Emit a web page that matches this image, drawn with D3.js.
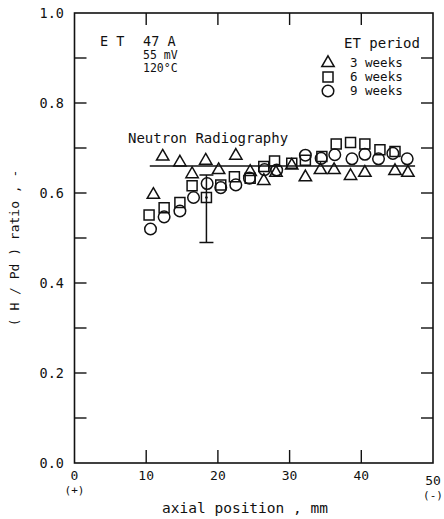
<!DOCTYPE html>
<html>
<head>
<meta charset="utf-8">
<script src="https://cdn.jsdelivr.net/npm/d3@7"></script>
<style>
  body { margin: 0; background: #fff; }
  text { font-family: "DejaVu Sans Mono", monospace; fill: #111; }
</style>
</head>
<body>
<div id="chart"></div>
<script>
// data
var wk3X = [11.0, 12.3, 14.7, 16.4, 18.3, 20.1, 22.5, 24.5, 26.4, 28.1, 30.3, 32.2, 34.3, 36.2, 38.5, 40.5, 44.7, 46.5];
var wk3Y = [0.596, 0.681, 0.668, 0.642, 0.672, 0.651, 0.683, 0.647, 0.627, 0.645, 0.661, 0.635, 0.651, 0.651, 0.638, 0.645, 0.649, 0.645];

var wk6X = [10.4, 12.5, 14.7, 16.4, 18.4, 20.4, 22.3, 24.5, 26.4, 27.9, 30.3, 32.2, 34.5, 36.5, 38.5, 40.5, 42.6, 44.7];
var wk6Y = [0.551, 0.567, 0.579, 0.616, 0.590, 0.618, 0.636, 0.633, 0.659, 0.671, 0.666, 0.673, 0.681, 0.709, 0.712, 0.709, 0.696, 0.692];

var wk9X = [10.6, 12.5, 14.7, 16.6, 18.5, 20.4, 22.5, 24.4, 26.5, 28.2, 32.2, 34.4, 36.3, 38.7, 40.5, 42.4, 44.4, 46.4];
var wk9Y = [0.520, 0.547, 0.560, 0.590, 0.621, 0.612, 0.618, 0.633, 0.652, 0.651, 0.684, 0.677, 0.685, 0.676, 0.686, 0.676, 0.688, 0.676];

var nrLine = [[10.5, 0.66], [47.5, 0.66]];
var errBar = { x: 18.4, lo: 0.49, hi: 0.64 };

var xTicks = [0, 10, 20, 30, 40, 50];
var yTicks = [0.0, 0.2, 0.4, 0.6, 0.8, 1.0];
var yMinor = [0.1, 0.3, 0.5, 0.7, 0.9];

var legendLabels = ["3 weeks", "6 weeks", "9 weeks"];

function init() {
  var w = 444, h = 519;
  var left = 74.5, right = 433, top = 13, bottom = 463;

  var svg = d3.select("#chart").append("svg")
    .attr("width", w).attr("height", h);

  var x = d3.scaleLinear().domain([0, 50]).range([left, right]);
  var y = d3.scaleLinear().domain([0, 1]).range([bottom, top]);

  // frame
  svg.append("rect")
    .attr("x", left).attr("y", top)
    .attr("width", right - left).attr("height", bottom - top)
    .attr("fill", "none").attr("stroke", "#111").attr("stroke-width", 1.6);

  var tickG = svg.append("g").attr("stroke", "#111").attr("stroke-width", 1.4);
  var allY = yTicks.concat(yMinor);
  // left and right ticks, inward
  allY.forEach(function(v) {
    if (v === 0 || v === 1) return;
    tickG.append("line").attr("x1", left).attr("x2", left + 12).attr("y1", y(v)).attr("y2", y(v));
    tickG.append("line").attr("x1", right).attr("x2", right - 12).attr("y1", y(v)).attr("y2", y(v));
  });
  // top and bottom ticks, inward
  xTicks.slice(1, -1).forEach(function(v) {
    tickG.append("line").attr("x1", x(v)).attr("x2", x(v)).attr("y1", bottom).attr("y2", bottom - 13);
    tickG.append("line").attr("x1", x(v)).attr("x2", x(v)).attr("y1", top).attr("y2", top + 12);
  });

  // tick labels
  svg.selectAll(".ylab").data(yTicks).enter().append("text")
    .attr("x", 64).attr("y", function(d) { return y(d); })
    .attr("dy", "0.35em").attr("text-anchor", "end")
    .attr("font-size", 13.5)
    .text(function(d) { return d.toFixed(1); });

  svg.selectAll(".xlab").data(xTicks).enter().append("text")
    .attr("x", function(d) { return x(d); })
    .attr("y", function(d) { return d === 50 ? 485 : 480; })
    .attr("text-anchor", "middle")
    .attr("font-size", 13)
    .text(function(d) { return d; });

  svg.append("text").attr("x", x(0)).attr("y", 494).attr("text-anchor", "middle")
    .attr("font-size", 11).text("(+)");
  svg.append("text").attr("x", x(50)).attr("y", 499).attr("text-anchor", "middle")
    .attr("font-size", 11).text("(-)");

  // axis titles
  svg.append("text").attr("x", 245).attr("y", 513).attr("text-anchor", "middle")
    .attr("font-size", 14.5).text("axial position , mm");
  svg.append("text")
    .attr("transform", "translate(19,248) rotate(-90)")
    .attr("text-anchor", "middle").attr("font-size", 13)
    .text("( H / Pd ) ratio , -");

  // annotation
  svg.append("text").attr("x", 100).attr("y", 46).attr("font-size", 13.5).text("E T");
  svg.append("text").attr("x", 143).attr("y", 46).attr("font-size", 13.5).text("47 A");
  svg.append("text").attr("x", 143).attr("y", 59).attr("font-size", 11.5).text("55 mV");
  svg.append("text").attr("x", 143).attr("y", 72).attr("font-size", 11.5).text("120°C");

  // neutron radiography reference line
  svg.append("path").datum(nrLine)
    .attr("fill", "none").attr("stroke", "#111").attr("stroke-width", 1.5)
    .attr("d", d3.line().x(function(d) { return x(d[0]); }).y(function(d) { return y(d[1]); }));
  svg.append("text").attr("x", 128).attr("y", 143).attr("font-size", 14).text("Neutron Radiography");

  // error bar
  var eb = svg.append("g").attr("stroke", "#111").attr("stroke-width", 1.5);
  eb.append("line").attr("x1", x(errBar.x)).attr("x2", x(errBar.x)).attr("y1", y(errBar.lo)).attr("y2", y(errBar.hi));
  [errBar.lo, errBar.hi].forEach(function(v) {
    eb.append("line").attr("x1", x(errBar.x) - 7).attr("x2", x(errBar.x) + 7).attr("y1", y(v)).attr("y2", y(v));
  });

  var tri = d3.symbol().type(d3.symbolTriangle).size(66);
  var sq = d3.symbol().type(d3.symbolSquare).size(100);
  var circ = d3.symbol().type(d3.symbolCircle).size(105);
  var shapes = [tri, sq, circ];

  function drawSeries(xs, ys, sym) {
    svg.append("g").selectAll("path").data(xs).enter().append("path")
      .attr("transform", function(d, i) { return "translate(" + x(d) + "," + y(ys[i]) + ")"; })
      .attr("d", sym)
      .attr("fill", "none").attr("stroke", "#111").attr("stroke-width", 1.5);
  }
  drawSeries(wk3X, wk3Y, tri);
  drawSeries(wk6X, wk6Y, sq);
  drawSeries(wk9X, wk9Y, circ);

  // dot in the error-bar square
  svg.append("circle").attr("cx", x(errBar.x)).attr("cy", y(0.59)).attr("r", 1.3).attr("fill", "#111");

  // legend
  svg.append("text").attr("x", 344).attr("y", 48).attr("font-size", 14).text("ET period");
  legendLabels.forEach(function(t, i) {
    var ly = 63 + i * 14;
    svg.append("path").attr("transform", "translate(328," + ly + ")")
      .attr("d", shapes[i]).attr("fill", "none").attr("stroke", "#111").attr("stroke-width", 1.5);
    svg.append("text").attr("x", 350).attr("y", ly).attr("dy", "0.35em")
      .attr("font-size", 12.5).text(t);
  });
}

window.onload = init;
</script>
</body>
</html>
